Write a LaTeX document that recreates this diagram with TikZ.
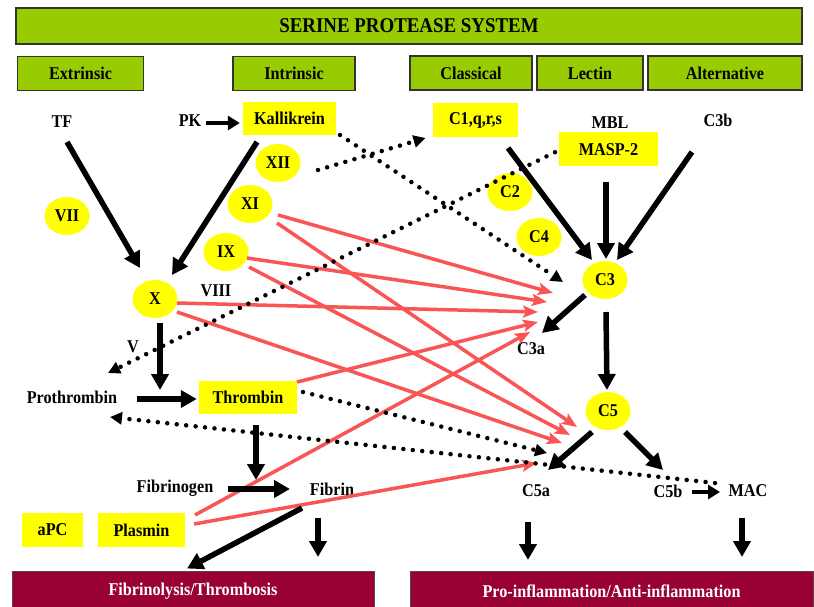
\documentclass[tikz,border=0pt]{standalone}
\usepackage{fontspec}
\setmainfont{Liberation Serif}[FakeStretch=0.9]
\usetikzlibrary{arrows.meta,calc,shapes.geometric}
\definecolor{grn}{RGB}{153,204,0}
\definecolor{ylw}{RGB}{255,255,0}
\definecolor{wine}{RGB}{153,0,51}
\definecolor{rd}{RGB}{250,85,85}
\begin{document}
\begin{tikzpicture}[x=1pt,y=-1pt,
  font=\bfseries\fontsize{18}{20}\selectfont,
  gbox/.style={draw=black!80, line width=1.2pt, fill=grn, minimum height=34pt, inner sep=0pt},
  ybox/.style={fill=ylw, inner sep=0pt, minimum height=33pt},
  yell/.style={ellipse, fill=ylw, minimum width=45pt, minimum height=38pt, inner sep=0pt},
  lbl/.style={inner sep=0pt},
  wbox/.style={fill=wine, draw=black!70, line width=1pt, text=white, minimum height=41pt, inner sep=0pt},
  blk/.style={line width=5.5pt, -{Triangle[length=16pt,width=17pt]}},
  blks/.style={line width=4.5pt, -{Triangle[length=12pt,width=14pt]}},
  dotarr/.style={line width=4.5pt, line cap=round, dash pattern=on 0pt off 9.5pt, -{Triangle[length=12pt,width=12pt]}},
  redarr/.style={draw=rd, line width=3.5pt, -{Stealth[length=15pt,width=12pt,inset=3pt]}}
]
\useasboundingbox (0,0) rectangle (814,606);
\fill[white] (0,0) rectangle (814,606);

% header boxes
\node[gbox, minimum width=786pt, minimum height=36pt, font=\bfseries\fontsize{21}{24}\selectfont] (title) at (409,26) {SERINE PROTEASE SYSTEM};
\node[gbox, minimum width=126pt] (ext) at (80.5,73.5) {Extrinsic};
\node[gbox, minimum width=122pt] (int) at (294,73.5) {Intrinsic};
\node[gbox, minimum width=122pt] (cla) at (471,73) {Classical};
\node[gbox, minimum width=106pt] (lec) at (590,73) {Lectin};
\node[gbox, minimum width=154pt] (alt) at (725,73) {Alternative};

% labels
\node[lbl] (TF) at (62,122) {TF};
\node[lbl] (PK) at (190,121) {PK};
\node[ybox, minimum width=93pt] (Kal) at (289.5,118.5) {Kallikrein};
\node[ybox, minimum width=85pt, minimum height=34pt] (C1) at (475.5,120) {C1,q,r,s};
\node[lbl] (MBL) at (610,123) {MBL};
\node[ybox, minimum width=99pt, minimum height=34pt, anchor=north] (MASP) at (608.5,132) {MASP-2};
\node[lbl] (C3b) at (718,120) {C3b};

\node[yell] (XII) at (278,163) {XII};
\node[yell] (VII) at (67,216) {VII};
\node[yell] (XI) at (250,204) {XI};
\node[yell] (C2) at (510,192) {C2};
\node[yell] (C4) at (539,237) {C4};
\node[yell] (IX) at (226,252) {IX};
\node[yell] (C3) at (605,280) {C3};
\node[yell] (X) at (155,299) {X};
\node[lbl] (VIII) at (216,291) {VIII};
\node[lbl] (V) at (133,347) {V};
\node[lbl] (C3a) at (531,349) {C3a};
\node[lbl] (Proth) at (72,397) {Prothrombin};
\node[ybox, minimum width=98pt] (Thr) at (248,397.5) {Thrombin};
\node[yell] (C5) at (608,411) {C5};
\node[lbl] (Fibrinogen) at (175,488) {Fibrinogen};
\node[lbl] (Fibrin) at (332,489) {Fibrin};
\node[lbl] (C5a) at (536,491) {C5a};
\node[lbl] (C5b) at (668,491) {C5b};
\node[lbl] (MAC) at (748,491) {MAC};
\node[ybox, minimum width=61pt, minimum height=34pt] (aPC) at (52.5,530) {aPC};
\node[ybox, minimum width=87pt, minimum height=34pt] (Plasmin) at (141.5,530) {Plasmin};
\node[wbox, minimum width=362pt] (FT) at (193,591.5) {Fibrinolysis/Thrombosis};
\node[wbox, minimum width=403pt] (PI) at (611.5,591.5) {Pro-inflammation/Anti-inflammation};

% red arrows
\draw[redarr] ($(XI)+(28,11)$) -- ($(C3a)+(22,-56)$);
\draw[redarr] ($(XI)+(27,19)$) -- ($(C5a)+(41,-64)$);
\draw[redarr] ($(IX)+(21,6)$) -- ($(C3a)+(16,-47)$);
\draw[redarr] ($(IX)+(23,15)$) -- ($(C5a)+(34,-56)$);
\draw[redarr] ($(X)+(22,4)$) -- ($(C3a)+(7,-37)$);
\draw[redarr] ($(X)+(22,13)$) -- ($(C5a)+(26,-48)$);
\draw[redarr] ($(Thr)+(49,-15.5)$) -- ($(C3a)+(7,-27)$);
\draw[redarr] ($(Plasmin)+(53.5,-15)$) -- ($(C3a)+(-1,-17)$);
\draw[redarr] ($(Plasmin)+(52.5,-6)$) -- ($(C5a)+(1,-28)$);

% dotted arrows
\draw[dotarr] ($(XII)+(40,7)$) -- ($(C1)+(-50,18)$);
\draw[dotarr] ($(Kal)+(50.5,16.5)$) -- ($(C3)+(-42,2)$);
\draw[dotarr] ($(MASP)+(-53.5,3)$) -- ($(Proth)+(36,-24)$);
\draw[dotarr] ($(Thr)+(55,-5.5)$) -- ($(C5a)+(11,-38)$);
\draw[dotarr] ($(MAC)+(-33,-8)$) -- ($(Proth)+(38,20)$);

% black arrows
\draw[blk] ($(TF)+(5,20)$) -- ($(X)+(-15,-31)$);
\draw[blk] ($(Kal)+(-32.5,23.5)$) -- ($(X)+(17,-24)$);
\draw[blks] ($(PK)+(16,2)$) -- ($(Kal.west)+(-3,4.5)$);
\draw[blk] ($(C1)+(32.5,28)$) -- ($(C3)+(-13,-20)$);
\draw[blk] ($(MASP)+(-2.5,33)$) -- ($(C3)+(1,-21)$);
\draw[blk] ($(C3b)+(-26,32)$) -- ($(C3)+(12,-20)$);
\draw[blk] ($(C3)+(-20,15)$) -- ($(C3a)+(11,-16)$);
\draw[blk] ($(C3)+(1,32)$) -- ($(C5)+(-1,-21)$);
\draw[blk] ($(C5)+(-16,21)$) -- ($(C5a)+(12,-21)$);
\draw[blk] ($(C5)+(17,21)$) -- ($(C5b)+(-5,-21)$);
\draw[blks] ($(C5b)+(24,1)$) -- ($(MAC)+(-28,1)$);
\draw[blk] ($(C5a)+(-8,31)$) -- ($(C5a)+(-8,69)$);
\draw[blk] ($(MAC)+(-6,27)$) -- ($(MAC)+(-6,66)$);
\draw[blk] ($(X)+(5,24)$) -- ($(X)+(5,91)$);
\draw[blk] ($(Proth)+(65,2)$) -- ($(Thr.west)+(-2,1.5)$);
\draw[blk] ($(Thr)+(8,27.5)$) -- ($(Thr)+(8,82.5)$);
\draw[blk] ($(Fibrinogen)+(53,1)$) -- ($(Fibrin)+(-42,0)$);
\draw[blk] ($(Fibrin)+(-30,19)$) -- ($(FT.north)+(-6,-2)$);
\draw[blk] ($(Fibrin)+(-14,29)$) -- ($(Fibrin)+(-14,68)$);
\end{tikzpicture}
\end{document}
